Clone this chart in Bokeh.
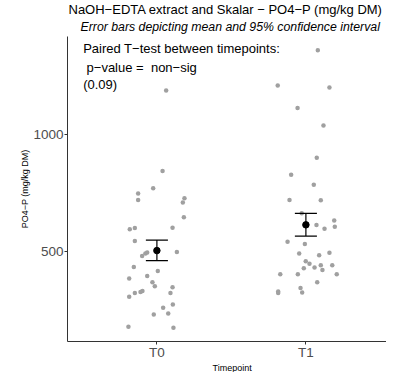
from bokeh.plotting import figure
from bokeh.models import FixedTicker, Label, Title
from bokeh.embed import file_html
from bokeh.resources import INLINE

# ---- data ----
categories = ["T0", "T1"]
t0_values = [1189, 845, 771, 749, 721, 728, 710, 647, 596, 601, 603, 546, 499, 482,
             493, 497, 435, 418, 386, 397, 370, 353, 349, 324, 324, 308, 328, 333,
             261, 275, 237, 232, 180, 176]
t0_jitter = [0.062, 0.038, -0.025, -0.126, -0.126, 0.185, 0.174, 0.181, -0.182, -0.148,
             0.105, -0.148, 0.134, -0.099, -0.077, -0.065, -0.155, 0.006, -0.186, -0.065,
             -0.030, -0.014, 0.105, 0.091, -0.148, -0.186, -0.110, -0.097, 0.042, 0.107,
             0.076, -0.021, -0.191, 0.111]
t1_values = [1360, 1210, 1201, 1114, 1039, 901, 829, 786, 721, 720, 664, 633, 614, 607,
             598, 543, 533, 493, 485, 496, 460, 449, 430, 433, 443, 422, 442, 404, 404,
             404, 370, 345, 326, 324, 330]
t1_jitter = [0.080, -0.189, 0.158, -0.056, 0.118, 0.073, -0.099, 0.053, -0.110, 0.100,
             -0.028, 0.190, 0.071, 0.194, 0.125, -0.123, -0.007, -0.045, 0.089, 0.158,
             -0.001, 0.024, -0.014, 0.058, 0.100, 0.111, 0.177, -0.172, -0.054, 0.207,
             0.076, -0.036, -0.025, -0.186, -0.186]
means = [505, 615]
ci_low = [462, 567]
ci_high = [550, 664]
y_ticks = [500, 1000]
annotation_lines = ["Paired T\u2212test between timepoints:",
                    "p\u2212value =\u00a0 non\u2212sig",
                    "(0.09)"]

FONT = "Liberation Sans"
CAP = 0.074

p = figure(width=386, height=372, output_backend="svg", toolbar_location=None,
           x_range=(0.4, 2.541), y_range=(117, 1419),
           min_border_left=67, min_border_right=0, min_border_top=36, min_border_bottom=24)
p.outline_line_color = None
p.xgrid.visible = False
p.ygrid.visible = False
p.background_fill_color = "white"

# titles: subtitle first (closest to plot), then main title
p.add_layout(Title(text="Error bars depicting mean and 95% confidence interval",
                   align="left", offset=13, standoff=6,
                   text_font=FONT, text_font_size="12.3px", text_font_style="italic",
                   text_color="black"), "above")
p.add_layout(Title(text="NaOH\u2212EDTA extract and Skalar \u2212 PO4\u2212P (mg/kg DM)",
                   align="left", offset=1, standoff=-5,
                   text_font=FONT, text_font_size="13px", text_font_style="normal",
                   text_color="black"), "above")

# jittered points
xs = [1 + j for j in t0_jitter] + [2 + j for j in t1_jitter]
ys = t0_values + t1_values
p.scatter(xs, ys, size=4.5, color="#a0a0a0", line_color=None)

# error bars (mean and 95% CI)
pos = [1, 2]
p.segment(x0=pos, y0=ci_low, x1=pos, y1=ci_high, line_color="black", line_width=1.2)
p.segment(x0=[x - CAP for x in pos], y0=ci_low, x1=[x + CAP for x in pos], y1=ci_low,
          line_color="black", line_width=1.2)
p.segment(x0=[x - CAP for x in pos], y0=ci_high, x1=[x + CAP for x in pos], y1=ci_high,
          line_color="black", line_width=1.2)
p.scatter(pos, means, size=6.5, color="black")

# axes
for ax in (p.xaxis[0], p.yaxis[0]):
    ax.axis_line_color = "#333333"
    ax.axis_line_width = 1
    ax.major_tick_line_color = "#333333"
    ax.major_tick_in = 0
    ax.major_tick_out = 3
    ax.minor_tick_line_color = None
    ax.major_label_text_font = FONT
    ax.major_label_text_font_size = "13.5px"
    ax.major_label_text_color = "#4d4d4d"
    ax.axis_label_text_font = FONT
    ax.axis_label_text_font_size = "9px"
    ax.axis_label_text_font_style = "normal"
    ax.axis_label_text_color = "black"

p.xaxis.ticker = FixedTicker(ticks=pos)
p.xaxis.major_label_overrides = {1: categories[0], 2: categories[1]}
p.xaxis.major_label_standoff = 0

# x-axis title as a title below the axis
p.add_layout(Title(text="Timepoint", align="left", offset=145, standoff=-2,
                   vertical_align="middle",
                   text_font=FONT, text_font_size="9px", text_font_style="normal",
                   text_color="black"), "below")

p.yaxis.ticker = FixedTicker(ticks=y_ticks)
p.yaxis.major_label_standoff = 1
p.yaxis.axis_label = "PO4\u2212P (mg/kg DM)"
p.yaxis.axis_label_standoff = 0

# annotation inside the panel (data coordinates)
for txt, xv, yv in zip(annotation_lines, [0.505, 0.528, 0.505], [1367, 1287, 1212]):
    p.add_layout(Label(x=xv, y=yv, text=txt, text_font=FONT, text_font_size="13px",
                       text_color="black", text_baseline="middle"))

open("out.html", "w").write(file_html(p, INLINE))
